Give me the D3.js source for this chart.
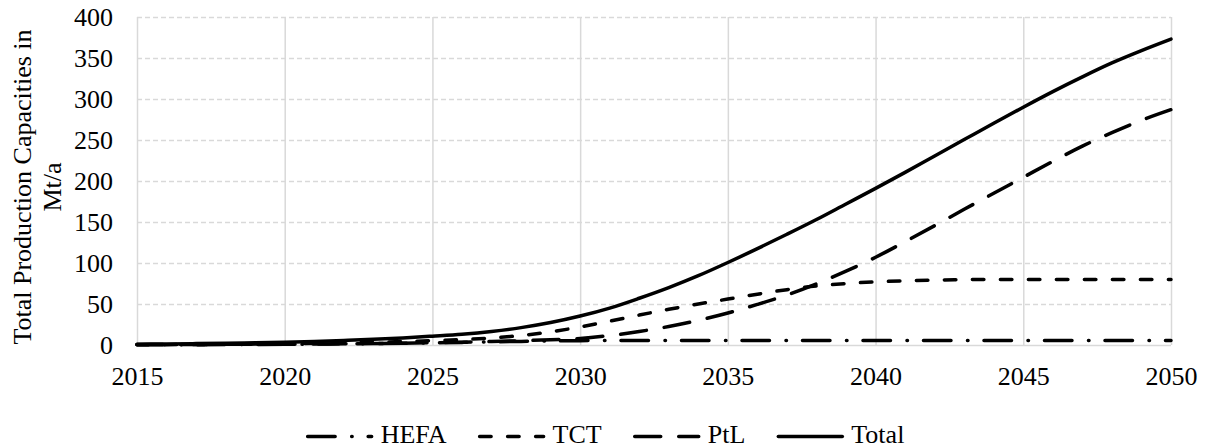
<!DOCTYPE html>
<html>
<head>
<meta charset="utf-8">
<script src="https://cdn.jsdelivr.net/npm/d3@7"></script>
<style>
  body { margin: 0; background: #fff; }
  svg text { font-family: "Liberation Serif", "Times New Roman", serif; fill: #000; }
</style>
</head>
<body>
<div id="chart"></div>
<script>
// years on the x axis
const years = d3.range(2015, 2051);

// values, Mt/a
const hefa = [0.2, 0.3, 0.4, 0.5, 0.7, 0.9, 1.1, 1.4, 1.8, 2.2,
  2.7, 3.2, 3.8, 4.4, 4.9, 5.3, 5.5, 5.6, 5.6, 5.6,
  5.6, 5.6, 5.6, 5.6, 5.6, 5.6, 5.6, 5.6, 5.6, 5.6,
  5.6, 5.6, 5.6, 5.6, 5.6, 5.6];
const tct = [0.3, 0.4, 0.6, 0.8, 1.1, 1.5, 2, 2.6, 3.3, 4.2,
  5.3, 6.6, 8.6, 11.6, 16, 22, 29, 36.5, 43.5, 50,
  56, 62, 67.5, 72, 75, 77, 78.3, 79.2, 79.7, 80,
  80, 80, 80, 80, 80, 80];
const ptl = [0.5, 0.6, 0.7, 0.8, 0.9, 1.0, 1.2, 1.5, 1.8, 2.2,
  2.8, 3.4, 4.2, 5.2, 6.5, 8, 11.5, 16.5, 22.5, 30,
  39, 49.5, 61, 74.5, 90, 107, 126, 145.5, 165.5, 185,
  204.5, 224, 242.5, 259, 274, 287];
const total = [1.0, 1.3, 1.7, 2.1, 2.7, 3.4, 4.3, 5.5, 6.9, 8.6,
  10.8, 13.2, 16.6, 21.2, 27.4, 35.3, 45, 57, 70, 84.5,
  100.6, 117.5, 135, 153, 172, 191, 210.5, 230.5, 250.5, 270.5,
  290, 309, 327, 344, 359, 373];

const seriesNames = ["HEFA", "TCT", "PtL", "Total"];
const seriesValues = [hefa, tct, ptl, total];
const yTicks = [0, 50, 100, 150, 200, 250, 300, 350, 400];
const xTicks = [2015, 2020, 2025, 2030, 2035, 2040, 2045, 2050];
const yTitle = ["Total Production Capacities in", "Mt/a"];

const W = 1206, H = 448;
const plot = { left: 137, right: 1171, top: 17, bottom: 345 };

// dash pattern per series (round caps make the dots)
const dashes = {
  "HEFA": "27.5,16.5,0.5,16",
  "TCT": "11.5,16.5",
  "PtL": "26,18",
  "Total": null
};

const svg = d3.select("#chart").append("svg")
  .attr("width", W)
  .attr("height", H);

const x = d3.scaleLinear().domain([2015, 2050]).range([plot.left, plot.right]);
const y = d3.scaleLinear().domain([0, 400]).range([plot.bottom, plot.top]);

// horizontal gridlines (dashed)
const gy = svg.append("g")
  .attr("transform", "translate(" + plot.left + ",0)")
  .call(d3.axisLeft(y).tickValues(yTicks).tickSize(-(plot.right - plot.left)).tickFormat(""));
gy.select(".domain").remove();
gy.selectAll("line")
  .attr("stroke", "#d9d9d9")
  .attr("stroke-width", 1.5)
  .attr("stroke-dasharray", d => d === 0 ? null : "5,3");

// vertical gridlines (solid)
const gx = svg.append("g")
  .attr("transform", "translate(0," + plot.bottom + ")")
  .call(d3.axisBottom(x).tickValues(xTicks).tickSize(-(plot.bottom - plot.top)).tickFormat(""));
gx.select(".domain").remove();
gx.selectAll("line")
  .attr("stroke", "#d9d9d9")
  .attr("stroke-width", 1.5);

// tick labels
const yLab = svg.append("g")
  .attr("transform", "translate(" + plot.left + ",0)")
  .call(d3.axisLeft(y).tickValues(yTicks).tickSize(0).tickPadding(24));
yLab.select(".domain").remove();
yLab.selectAll("text")
  .style("font-size", "26px")
  .attr("dy", "0.33em");

const xLab = svg.append("g")
  .attr("transform", "translate(0," + plot.bottom + ")")
  .call(d3.axisBottom(x).tickValues(xTicks).tickSize(0).tickPadding(0).tickFormat(d3.format("d")));
xLab.select(".domain").remove();
xLab.selectAll("text")
  .style("font-size", "26px")
  .attr("dy", null)
  .attr("y", 40);

// axis title, two lines
const title = svg.append("text")
  .attr("transform", "translate(0,187) rotate(-90)")
  .attr("text-anchor", "middle")
  .style("font-size", "26px");
title.selectAll("tspan")
  .data(yTitle)
  .enter().append("tspan")
  .attr("x", 0)
  .attr("y", (d, i) => 31 + i * 30)
  .text(d => d);

// lines
const line = d3.line()
  .x((d, i) => x(years[i]))
  .y(d => y(d))
  .curve(d3.curveMonotoneX);

seriesNames.forEach((name, k) => {
  svg.append("path")
    .datum(seriesValues[k])
    .attr("d", line)
    .attr("fill", "none")
    .attr("stroke", "#000")
    .attr("stroke-width", 3.5)
    .attr("stroke-linecap", "round")
    .attr("stroke-dasharray", dashes[name]);
});

// legend
const legend = svg.append("g");
let lx = 0;
seriesNames.forEach(name => {
  const g = legend.append("g").attr("transform", "translate(" + lx + ",0)");
  g.append("line")
    .attr("x1", 2).attr("x2", 66)
    .attr("y1", 0).attr("y2", 0)
    .attr("stroke", "#000")
    .attr("stroke-width", 3.5)
    .attr("stroke-linecap", "round")
    .attr("stroke-dasharray", dashes[name]);
  const t = g.append("text")
    .attr("x", 75)
    .attr("y", 6.5)
    .style("font-size", "26px")
    .text(name);
  lx += 75 + t.node().getComputedTextLength() + 31;
});
const legendW = lx - 31;
legend.attr("transform", "translate(" + (605 - legendW / 2) + ",436.5)");
</script>
</body>
</html>
